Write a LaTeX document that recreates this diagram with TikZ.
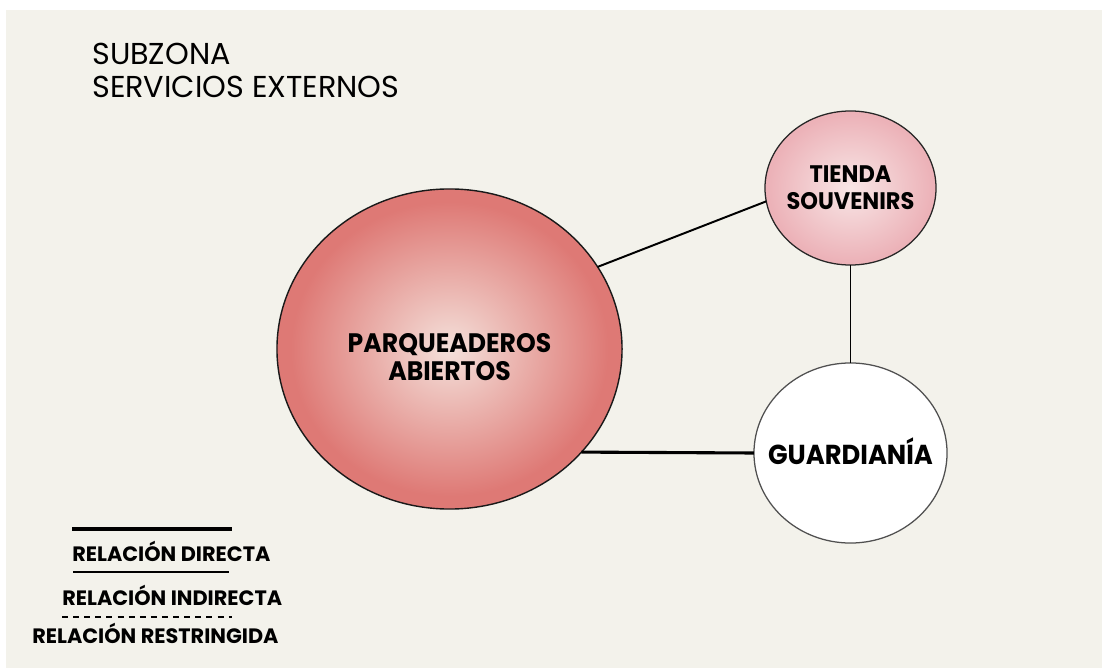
\documentclass[tikz,border=0pt]{standalone}
\usepackage{fontspec}
\setmainfont{Poppins}
\newfontfamily\titlefont{Poppins}
\newfontfamily\zonefont{Poppins}[FakeStretch=0.94]
\usepackage{tikz}
\usetikzlibrary{positioning,shapes.geometric}
\definecolor{paper}{RGB}{243,242,235}
\definecolor{parqin}{RGB}{244,224,218}
\definecolor{parqout}{RGB}{222,121,117}
\definecolor{tiendin}{RGB}{248,230,230}
\definecolor{tiendout}{RGB}{236,178,184}
\definecolor{guardrule}{RGB}{80,80,80}
\pgfdeclareradialshading{parqshade}{\pgfpoint{0bp}{0bp}}{color(0bp)=(parqin); color(23bp)=(parqout); color(25bp)=(parqout); color(50bp)=(parqout)}
\pgfdeclareradialshading{tiendshade}{\pgfpoint{0bp}{0bp}}{color(0bp)=(tiendin); color(24bp)=(tiendout); color(25bp)=(tiendout); color(50bp)=(tiendout)}
\tikzset{
  zone/.style={ellipse,inner sep=0pt,outer sep=0pt},
  zonetext/.style={align=center,inner sep=0pt,font=\zonefont\bfseries#1},
  lnk/.style={line width=1.4pt,black},
  legtext/.style={anchor=base west,inner sep=0pt,font=\bfseries\fontsize{14.8}{16}\selectfont}
}

\begin{document}
\begin{tikzpicture}[x=0.025cm,y=-0.025cm]
% ---- paper (white strip on top and left) ----
\fill[white] (0,0) rectangle (1102,668);
\fill[paper] (6,10) rectangle (1102,668);
% ---- title ----
\node[anchor=north west,inner sep=0pt,align=left,font=\titlefont\fontsize{21.5}{23.5}\selectfont] (title) at (92,43) {SUBZONA\\SERVICIOS EXTERNOS};
% ---- zones ----
\node[zone,shading=parqshade,draw=black!90,line width=1pt,minimum width=8.625cm,minimum height=8cm,
      label={[name=parqtxt,zonetext=\fontsize{19}{20}\selectfont,yshift=-0.2cm]center:PARQUEADEROS\\ABIERTOS}] (parq) at (449.5,349) {};
\node[zone,shading=tiendshade,draw=black!85,line width=0.9pt,minimum width=4.275cm,minimum height=3.85cm,
      label={[name=tiendtxt,zonetext=\fontsize{17}{19.2}\selectfont]center:TIENDA\\SOUVENIRS}] (tienda) at (850.5,188) {};
\node[zone,fill=white,draw=guardrule,line width=0.9pt,minimum width=4.825cm,minimum height=4.5cm,
      label={[name=guardtxt,zonetext=\fontsize{19.5}{21}\selectfont,yshift=0.05cm]center:GUARDIANÍA}] (guard) at (850.5,453) {};
% ---- relations ----
\draw[lnk] (parq.29) -- (tienda.189);
\draw[lnk] (tienda.south) -- (guard.north);
\draw[line width=2.2pt,black] (parq.-38.4) -- (guard.west);
% ---- legend ----
\coordinate (dirA) at (72,529);  \coordinate (dirB) at (232,529);
\coordinate (indA) at (73,572);  \coordinate (indB) at (229,572);
\coordinate (resA) at (62,617);  \coordinate (resB) at (232,617);
\draw[line width=2.2pt] (dirA) -- (dirB);
\node[legtext] (ldir) at (72,561) {RELACIÓN DIRECTA};
\draw[line width=1.1pt] (indA) -- (indB);
\node[legtext] (lind) at (62,605) {RELACIÓN INDIRECTA};
\draw[line width=0.9pt,dash pattern=on 4.3pt off 3.6pt] (resA) -- (resB);
\node[legtext] (lres) at (32,643) {RELACIÓN RESTRINGIDA};
\end{tikzpicture}
\end{document}
